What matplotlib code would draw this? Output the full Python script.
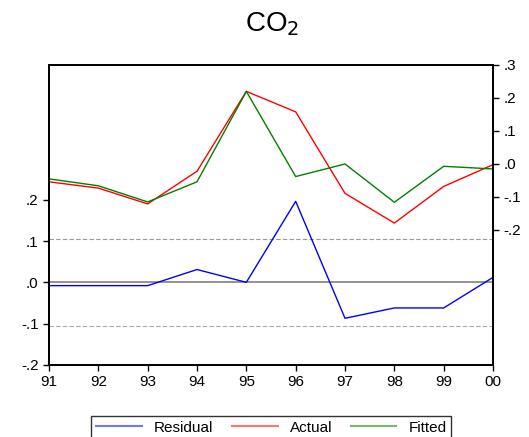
import matplotlib.pyplot as plt
from matplotlib.lines import Line2D

plt.rcParams['font.family'] = ['Liberation Sans', 'DejaVu Sans']

years = ["91", "92", "93", "94", "95", "96", "97", "98", "99", "00"]
residual = [-0.008, -0.008, -0.008, 0.031, 0.0, 0.196, -0.087, -0.062, -0.062, 0.012]
actual = [-0.054, -0.073, -0.121, -0.022, 0.220, 0.158, -0.089, -0.179, -0.068, -0.002]
fitted = [-0.045, -0.066, -0.115, -0.054, 0.220, -0.038, 0.000, -0.116, -0.007, -0.015]
se = 0.105

left_ticks = [-0.2, -0.1, 0.0, 0.1, 0.2]
left_labels = ["-.2", "-.1", ".0", ".1", ".2"]
right_ticks = [-0.2, -0.1, 0.0, 0.1, 0.2, 0.3]
right_labels = ["-.2", "-.1", ".0", ".1", ".2", ".3"]

x = list(range(len(years)))

fig = plt.figure(figsize=(5.29, 4.37), dpi=100)
ax = fig.add_axes([0.0926, 0.1648, 0.8394, 0.6865])
ax2 = ax.twinx()

# residual on the left axis
ax.axhline(0, color="#808080", lw=1.2)
ax.axhline(se, color="#999999", lw=0.8, ls=(0, (4, 2)))
ax.axhline(-se, color="#aaaaaa", lw=0.8, ls=(0, (4, 2)))
ax.plot(x, residual, color="blue", lw=1)
ax.set_ylim(-0.2, 0.526)
ax.set_yticks(left_ticks)
ax.set_yticklabels(left_labels)

# actual / fitted on the right axis
ax2.plot(x, actual, color="red", lw=1)
ax2.plot(x, fitted, color="green", lw=1)
ax2.set_ylim(-0.609, 0.3)
ax2.set_yticks(right_ticks)
ax2.set_yticklabels(right_labels)

ax.set_xlim(0, len(years) - 1)
ax.set_xticks(x)
ax.set_xticklabels(years)

for a in (ax, ax2):
    a.tick_params(labelsize=11, length=4, width=1)
    for s in a.spines.values():
        s.set_linewidth(1.3)

fig.text(0.514, 0.945, "CO$_2$", ha="center", va="center", fontsize=20)

handles = [
    Line2D([], [], color="blue", alpha=0.55, lw=1.5),
    Line2D([], [], color="red", alpha=0.55, lw=1.5),
    Line2D([], [], color="green", alpha=0.55, lw=1.5),
]
leg = fig.legend(handles, ["Residual", "Actual", "Fitted"], loc="upper center",
                 bbox_to_anchor=(0.513, 0.065), ncol=3, fontsize=11, frameon=True,
                 fancybox=False, edgecolor="black", handlelength=3.0,
                 columnspacing=1.2, borderpad=0.3)
leg.get_frame().set_linewidth(1)

fig.savefig("out.png", dpi=100)
